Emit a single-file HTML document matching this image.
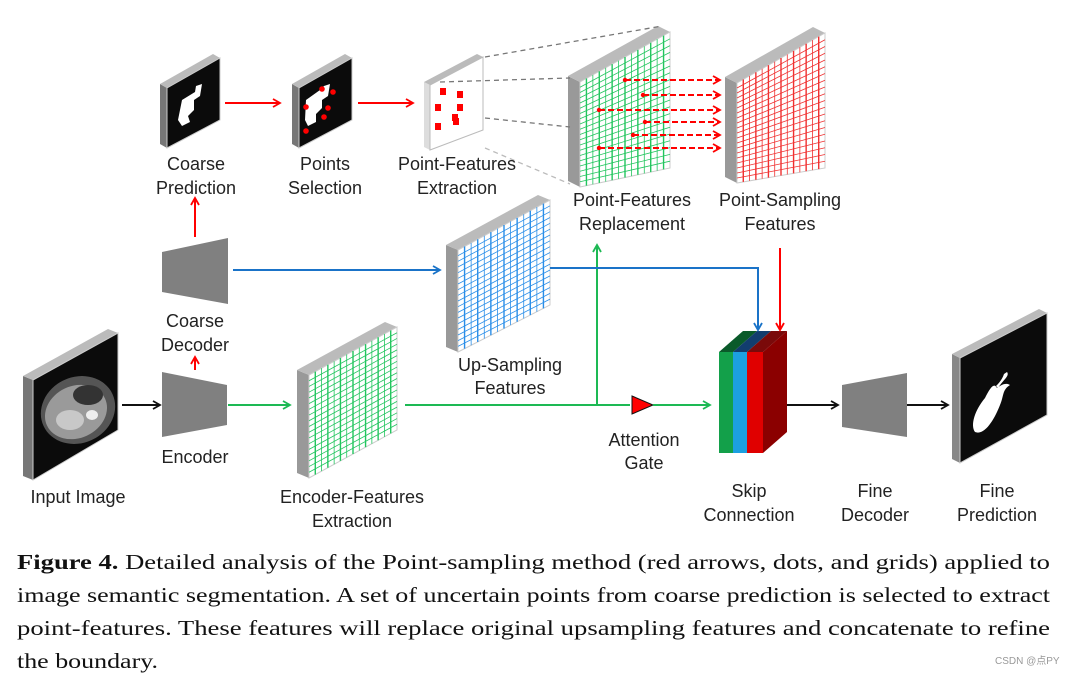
<!DOCTYPE html>
<html><head><meta charset="utf-8"><style>
html,body{margin:0;padding:0;background:#fff;width:1073px;height:675px;overflow:hidden}
svg{display:block}
.l{font-family:"Liberation Sans",sans-serif;font-size:18px;fill:#222;text-anchor:middle}
.c{font-family:"Liberation Serif",serif;font-size:21.5px;fill:#111}
</style></head><body>
<svg id="s" width="1073" height="675" viewBox="0 0 1073 675" xmlns="http://www.w3.org/2000/svg">
<defs>
<marker id="ak" markerWidth="10" markerHeight="10" refX="8" refY="5" orient="auto" markerUnits="userSpaceOnUse"><path d="M1,1 L8,5 L1,9" fill="none" stroke="#111" stroke-width="1.8"/></marker>
<marker id="ag" markerWidth="10" markerHeight="10" refX="8" refY="5" orient="auto" markerUnits="userSpaceOnUse"><path d="M1,1 L8,5 L1,9" fill="none" stroke="#1db954" stroke-width="1.8"/></marker>
<marker id="ab" markerWidth="10" markerHeight="10" refX="8" refY="5" orient="auto" markerUnits="userSpaceOnUse"><path d="M1,1 L8,5 L1,9" fill="none" stroke="#1a73c8" stroke-width="1.8"/></marker>
<marker id="ar" markerWidth="10" markerHeight="10" refX="8" refY="5" orient="auto" markerUnits="userSpaceOnUse"><path d="M1,1 L8,5 L1,9" fill="none" stroke="#f00" stroke-width="1.8"/></marker>
</defs>
<g id="slabs"></g>
<g id="extra">
<polygon points="162,252 228,238 228,304 162,292" fill="#808080"/>
<polygon points="162,372 227,385 227,425 162,437" fill="#808080"/>
<polygon points="842,385 907,373 907,437 842,427" fill="#808080"/>
<polygon points="719,352 733,352 757,331 743,331" fill="#0a5a2a"/>
<polygon points="733,352 747,352 771,331 757,331" fill="#123d6e"/>
<polygon points="747,352 763,352 787,331 771,331" fill="#7a0a0a"/>
<polygon points="763,352 787,331 787,432 763,453" fill="#8b0000"/>
<rect x="719" y="352" width="14" height="101" fill="#13a04a"/>
<rect x="733" y="352" width="14" height="101" fill="#1ca0e0"/>
<rect x="747" y="352" width="16" height="101" fill="#e00000"/>
<polygon points="632,396 653,405 632,414" fill="#f00" stroke="#111" stroke-width="1"/>
</g>
<g fill="none" stroke-width="2">
<line x1="122" y1="405" x2="160" y2="405" stroke="#111" marker-end="url(#ak)"/>
<line x1="228" y1="405" x2="290" y2="405" stroke="#1db954" marker-end="url(#ag)"/>
<line x1="405" y1="405" x2="630" y2="405" stroke="#1db954"/>
<line x1="653" y1="405" x2="710" y2="405" stroke="#1db954" marker-end="url(#ag)"/>
<line x1="597" y1="405" x2="597" y2="245" stroke="#1db954" marker-end="url(#ag)"/>
<line x1="195" y1="237" x2="195" y2="198" stroke="#f00" marker-end="url(#ar)"/>
<line x1="195" y1="370" x2="195" y2="357" stroke="#f00" marker-end="url(#ar)"/>
<line x1="225" y1="103" x2="280" y2="103" stroke="#f00" marker-end="url(#ar)"/>
<line x1="358" y1="103" x2="413" y2="103" stroke="#f00" marker-end="url(#ar)"/>
<line x1="233" y1="270" x2="440" y2="270" stroke="#1a73c8" marker-end="url(#ab)"/>
<polyline points="550,268 758,268 758,330" stroke="#1a73c8" marker-end="url(#ab)"/>
<line x1="780" y1="248" x2="780" y2="330" stroke="#f00" marker-end="url(#ar)"/>
<line x1="787" y1="405" x2="838" y2="405" stroke="#111" marker-end="url(#ak)"/>
<line x1="907" y1="405" x2="948" y2="405" stroke="#111" marker-end="url(#ak)"/>
</g>
<g stroke="#777" stroke-width="1.3" stroke-dasharray="5,4" fill="none">
<line x1="485" y1="57" x2="662" y2="26"/>
<line x1="440" y1="82" x2="570" y2="78"/>
<line x1="485" y1="118" x2="570" y2="127"/>
<line x1="485" y1="148" x2="570" y2="184" stroke="#bbb"/>
</g>
<g id="rd" stroke="#f00" stroke-width="2" stroke-dasharray="6,3" fill="none"></g>
<g>
<text class="l" x="196" y="170">Coarse</text><text class="l" x="196" y="194">Prediction</text>
<text class="l" x="325" y="170">Points</text><text class="l" x="325" y="194">Selection</text>
<text class="l" x="457" y="170">Point-Features</text><text class="l" x="457" y="194">Extraction</text>
<text class="l" x="632" y="206">Point-Features</text><text class="l" x="632" y="230">Replacement</text>
<text class="l" x="780" y="206">Point-Sampling</text><text class="l" x="780" y="230">Features</text>
<text class="l" x="195" y="327">Coarse</text><text class="l" x="195" y="351">Decoder</text>
<text class="l" x="195" y="463">Encoder</text>
<text class="l" x="78" y="503">Input Image</text>
<text class="l" x="510" y="371">Up-Sampling</text><text class="l" x="510" y="394">Features</text>
<text class="l" x="352" y="503">Encoder-Features</text><text class="l" x="352" y="527">Extraction</text>
<text class="l" x="644" y="446">Attention</text><text class="l" x="644" y="469">Gate</text>
<text class="l" x="749" y="497">Skip</text><text class="l" x="749" y="521">Connection</text>
<text class="l" x="875" y="497">Fine</text><text class="l" x="875" y="521">Decoder</text>
<text class="l" x="997" y="497">Fine</text><text class="l" x="997" y="521">Prediction</text>
</g>
<g>
<text class="c" x="17" y="569" textLength="1033" lengthAdjust="spacingAndGlyphs"><tspan font-weight="bold">Figure 4.</tspan>  Detailed analysis of the Point-sampling method (red arrows, dots, and grids) applied to</text>
<text class="c" x="17" y="602" textLength="1033" lengthAdjust="spacingAndGlyphs">image semantic segmentation. A set of uncertain points from coarse prediction is selected to extract</text>
<text class="c" x="17" y="635" textLength="1033" lengthAdjust="spacingAndGlyphs">point-features.  These features will replace original upsampling features and concatenate to refine</text>
<text class="c" x="17" y="668" textLength="141" lengthAdjust="spacingAndGlyphs">the boundary.</text>
<text x="995" y="664" font-family="Liberation Sans, Noto Sans CJK SC, sans-serif" font-size="10" fill="#999">CSDN @点PY</text>
</g>
</svg>
<script>
var NS="http://www.w3.org/2000/svg",S=document.getElementById("slabs");
function el(t,a,p){var e=document.createElementNS(NS,t);for(var k in a)e.setAttribute(k,a[k]);(p||S).appendChild(e);return e;}
function P(a){return a.map(function(p){return p[0]+","+p[1]}).join(" ")}
function slab(tl,tr,br,bl,fill,d,side,edge){
 d=d||[-12,-6];side=side||"#999";
 var btl=[tl[0]+d[0],tl[1]+d[1]],btr=[tr[0]+d[0],tr[1]+d[1]],bbl=[bl[0]+d[0],bl[1]+d[1]];
 el("polygon",{points:P([btl,tl,bl,bbl]),fill:side});
 el("polygon",{points:P([btl,btr,tr,tl]),fill:"#bbb"});
 el("polygon",{points:P([tl,tr,br,bl]),fill:fill,stroke:edge||"#ccc","stroke-width":1});
}
function lerp(a,b,t){return [a[0]+(b[0]-a[0])*t,a[1]+(b[1]-a[1])*t]}
function grid(tl,tr,br,bl,col,nv,nh){
 for(var i=1;i<nv;i++){var t=i/nv;var a=lerp(tl,tr,t),b=lerp(bl,br,t);el("line",{x1:a[0],y1:a[1],x2:b[0],y2:b[1],stroke:col,"stroke-width":i%2?1.4:0.8});}
 for(var j=1;j<nh;j++){var t=j/nh;var a=lerp(tl,bl,t),b=lerp(tr,br,t);el("line",{x1:a[0],y1:a[1],x2:b[0],y2:b[1],stroke:col,"stroke-width":0.8});}
}
slab([33,380],[118,333],[118,430],[33,480],"#0b0b0b",[-10,-4],"#777");
el("ellipse",{cx:78,cy:410,rx:38,ry:33,fill:"#555",transform:"rotate(-25 78 410)"});
el("ellipse",{cx:76,cy:412,rx:32,ry:26,fill:"#9a9a9a",transform:"rotate(-25 76 412)"});
el("ellipse",{cx:88,cy:395,rx:15,ry:10,fill:"#333"});
el("ellipse",{cx:70,cy:420,rx:14,ry:10,fill:"#c8c8c8"});
el("ellipse",{cx:92,cy:415,rx:6,ry:5,fill:"#eee"});
slab([167,88],[220,58],[220,120],[167,148],"#0b0b0b",[-7,-4],"#777");
el("polygon",{points:"182,100 195,92 196,86 202,84 200,96 194,100 194,110 188,116 190,122 182,126 178,120 180,110",fill:"#fff"});
slab([299,88],[352,58],[352,120],[299,148],"#0b0b0b",[-7,-4],"#777");
el("polygon",{points:"306,100 320,90 324,86 330,84 328,96 322,100 322,108 316,114 316,122 308,126 305,120",fill:"#fff"});
[[322,89],[333,92],[306,107],[328,108],[324,117],[306,131]].forEach(function(p){el("circle",{cx:p[0],cy:p[1],r:2.8,fill:"#f00"})});
slab([430,85],[483,57],[483,130],[430,150],"#fff",[-6,-3],"#ddd","#bbb");
[[443,92],[460,95],[438,108],[460,108],[455,118],[438,127],[456,122]].forEach(function(p){el("rect",{x:p[0]-3,y:p[1]-4,width:6,height:7,fill:"#f00"})});
slab([309,375],[397,327],[397,430],[309,478],"#fff",[-12,-5]);
grid([309,375],[397,327],[397,430],[309,478],"#22c55e",14,18);
slab([458,250],[550,200],[550,305],[458,352],"#fff",[-12,-5]);
grid([458,250],[550,200],[550,305],[458,352],"#2a8ee8",14,18);
slab([580,82],[670,32],[670,168],[580,187],"#fff",[-12,-6]);
grid([580,82],[670,32],[670,168],[580,187],"#22c55e",14,20);
slab([737,83],[825,33],[825,168],[737,183],"#fff",[-12,-6]);
grid([737,83],[825,33],[825,168],[737,183],"#f03030",14,20);
slab([960,358],[1047,313],[1047,415],[960,463],"#0b0b0b",[-8,-4],"#888");
el("path",{d:"M985,398 C975,410 970,425 975,432 C985,436 995,418 1000,405 C1004,396 1002,390 1010,385 C1005,382 1000,386 997,388 C994,382 990,388 985,398 Z",fill:"#fff"});
el("path",{d:"M998,388 C1003,380 1010,376 1007,372 L1004,374 C1002,380 998,384 996,386Z",fill:"#fff"});
var R=document.getElementById("rd");
[[625,80],[643,95],[599,110],[645,122],[633,135],[599,148]].forEach(function(p){
 el("circle",{cx:p[0],cy:p[1],r:2.2,fill:"#f00",stroke:"none"},R);
 el("line",{x1:p[0],y1:p[1],x2:720,y2:p[1],"marker-end":"url(#ar)"},R);
});
</script>
</body></html>
